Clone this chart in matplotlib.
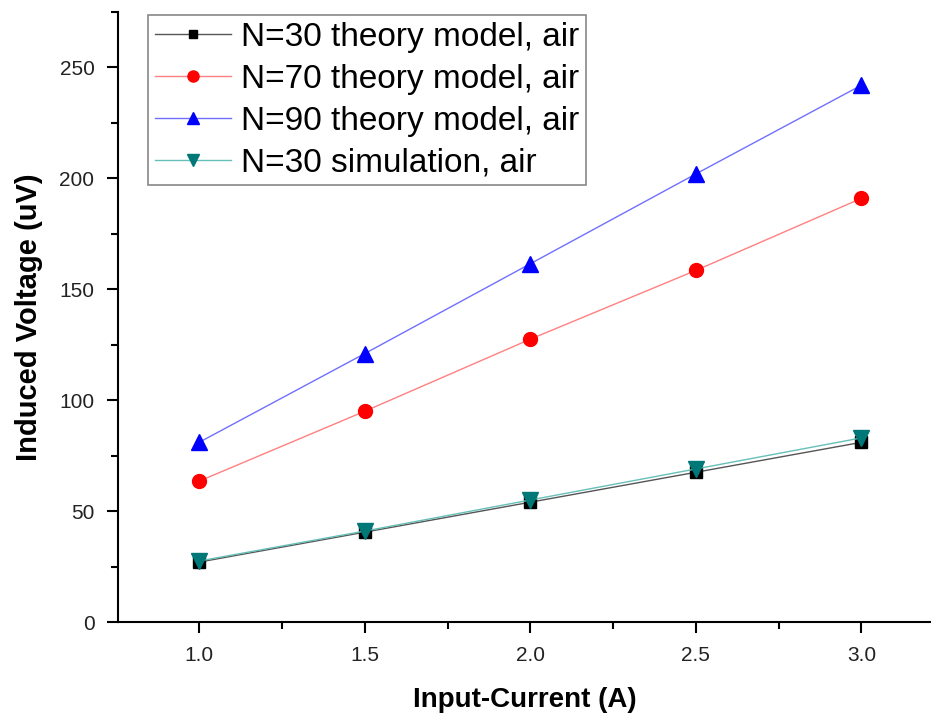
import matplotlib
matplotlib.use("Agg")
import matplotlib.pyplot as plt
from matplotlib.ticker import MultipleLocator
from matplotlib import font_manager

names = {f.name for f in font_manager.fontManager.ttflist}
narrow = 'Liberation Sans Narrow' if 'Liberation Sans Narrow' in names else 'Liberation Sans'

current = [1.0, 1.5, 2.0, 2.5, 3.0]
n30_theory = [27.0, 40.5, 54.0, 67.5, 81.0]
n70_theory = [63.5, 95.0, 127.5, 158.5, 191.0]
n90_theory = [81.0, 121.0, 161.5, 202.0, 242.0]
n30_sim = [27.5, 41.0, 55.0, 69.0, 83.0]

labels = ["N=30 theory model, air", "N=70 theory model, air",
          "N=90 theory model, air", "N=30 simulation, air"]

fig = plt.figure(figsize=(9.31, 7.16), dpi=100)
ax = fig.add_axes([118/931, 94/716, 1 - 118/931, (622-12)/716])

ax.plot(current, n30_theory, color='#555555', lw=1, marker='s', ms=8,
        mfc='black', mec='black', label=labels[0], zorder=3)
ax.plot(current, n70_theory, color='#ff8080', lw=1, marker='o', ms=10,
        mfc='red', mec='red', label=labels[1])
ax.plot(current, n90_theory, color='#7070ff', lw=1, marker='^', ms=11,
        mfc='blue', mec='blue', label=labels[2])
ax.plot(current, n30_sim, color='#66c0b8', lw=1, marker='v', ms=11,
        mfc='#007878', mec='#007878', label=labels[3], zorder=4)

ax.set_xlim(0.755, 3.21)
ax.set_ylim(0, 275)
ax.xaxis.set_major_locator(MultipleLocator(0.5))
ax.xaxis.set_minor_locator(MultipleLocator(0.25))
ax.yaxis.set_major_locator(MultipleLocator(50))
ax.yaxis.set_minor_locator(MultipleLocator(25))
ax.set_xticks([1.0, 1.5, 2.0, 2.5, 3.0])
ax.set_xticklabels(['1.0', '1.5', '2.0', '2.5', '3.0'])
for s in ['top', 'right']:
    ax.spines[s].set_visible(False)
for s in ['left', 'bottom']:
    ax.spines[s].set_linewidth(1.5)
ax.tick_params(which='major', direction='out', length=8, width=1.5,
               labelsize=15, pad=9)
ax.tick_params(which='minor', direction='out', length=5, width=1.5)
for t in ax.get_xticklabels() + ax.get_yticklabels():
    t.set_fontfamily(narrow)
    t.set_color('#222222')

ax.set_xlabel('Input-Current (A)', fontfamily=narrow, fontweight='bold',
              fontsize=20, labelpad=16)
ax.set_ylabel('Induced Voltage (uV)', fontfamily=narrow, fontweight='bold',
              fontsize=21, labelpad=12)

leg = ax.legend(loc='upper left', bbox_to_anchor=(148/931, 1 - 15/716),
                bbox_transform=fig.transFigure, borderaxespad=0,
                prop={'family': 'Liberation Sans', 'size': 24},
                fancybox=False, edgecolor='#888888', framealpha=1,
                handlelength=2.3, handletextpad=0.3, labelspacing=0.33,
                borderpad=0.2, markerscale=0.8)
leg.get_frame().set_linewidth(1.2)

fig.savefig('out.png', dpi=100)
